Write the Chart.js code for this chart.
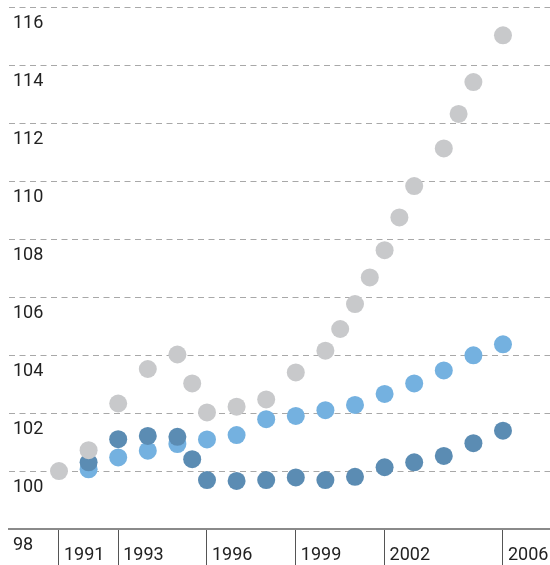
<!DOCTYPE html>
<html>
<head>
<meta charset="utf-8">
<script src="https://cdn.jsdelivr.net/npm/chart.js@4/dist/chart.umd.min.js"></script>
<style>
  html, body { margin: 0; padding: 0; background: #fff; }
  #wrap { width: 550px; height: 565px; }
</style>
</head>
<body>
<div id="wrap"><canvas id="chart" width="550" height="565"></canvas></div>
<script>
// values
const grayYears = [1991, 1992, 1993, 1994, 1995, 1995.5, 1996, 1997, 1998, 1999, 2000, 2000.5, 2001, 2001.5, 2002, 2002.5, 2003, 2004, 2004.5, 2005, 2006];
const grayValues = [100.0, 100.72, 102.33, 103.52, 104.02, 103.02, 102.02, 102.22, 102.47, 103.4, 104.15, 104.9, 105.76, 106.68, 107.62, 108.75, 109.83, 111.13, 112.32, 113.42, 115.03];

const darkYears = [1992, 1993, 1994, 1995, 1995.5, 1996, 1997, 1998, 1999, 2000, 2001, 2002, 2003, 2004, 2005, 2006];
const darkValues = [100.3, 101.1, 101.21, 101.18, 100.41, 99.69, 99.66, 99.69, 99.78, 99.69, 99.8, 100.13, 100.3, 100.52, 100.96, 101.39];

const lightYears = [1992, 1993, 1994, 1995, 1996, 1997, 1998, 1999, 2000, 2001, 2002, 2003, 2004, 2005, 2006];
const lightValues = [100.06, 100.47, 100.7, 100.93, 101.09, 101.24, 101.79, 101.9, 102.1, 102.28, 102.66, 103.02, 103.47, 103.99, 104.37];

const tickYears = [1991, 1993, 1996, 1999, 2002, 2006];

const fontFam = "'Liberation Sans Narrow', 'Roboto', sans-serif";

const toPoints = (xs, ys) => xs.map((x, i) => ({ x: x, y: ys[i] }));

const noPadding = (scale) => {
    scale.paddingLeft = 0;
    scale.paddingRight = 0;
    scale.paddingTop = 0;
    scale.paddingBottom = 0;
};

new Chart(document.getElementById('chart').getContext('2d'), {
    type: 'scatter',
    data: {
        datasets: [
            { data: toPoints(grayYears, grayValues), backgroundColor: '#c8c9cb' },
            { data: toPoints(darkYears, darkValues), backgroundColor: '#5b8cb3' },
            { data: toPoints(lightYears, lightValues), backgroundColor: '#74b1e0' }
        ]
    },
    options: {
        responsive: false,
        animation: false,
        events: [],
        layout: { autoPadding: false, padding: { left: 9, right: 0, top: 0, bottom: 0 } },
        elements: { point: { radius: 9, borderWidth: 0, hoverRadius: 9 } },
        plugins: { legend: { display: false }, tooltip: { enabled: false } },
        scales: {
            x: {
                type: 'linear',
                position: 'bottom',
                min: 1989.311,
                max: 2007.588,
                afterBuildTicks: (scale) => { scale.ticks = tickYears.map(v => ({ value: v })); },
                afterFit: (scale) => { scale.height = 36; noPadding(scale); },
                grid: { drawOnChartArea: false, drawTicks: true, tickLength: 36, tickColor: '#555', lineWidth: 1 },
                border: { display: true, color: '#8a8a8a', width: 2 },
                ticks: {
                    align: 'start',
                    labelOffset: 5,
                    padding: -20,
                    autoSkip: false,
                    maxRotation: 0,
                    color: '#222',
                    font: { family: fontFam, size: 18 },
                    callback: (v) => String(v)
                }
            },
            y: {
                type: 'linear',
                position: 'left',
                min: 98,
                max: 116.25,
                afterFit: (scale) => { scale.width = 0; noPadding(scale); },
                grid: {
                    drawTicks: false,
                    color: (ctx) => (ctx.tick && ctx.tick.value === 98) ? 'rgba(0,0,0,0)' : '#a8a8a8',
                    lineWidth: 1
                },
                border: { display: false, dash: [6, 4.5] },
                ticks: {
                    stepSize: 2,
                    includeBounds: false,
                    mirror: true,
                    crossAlign: 'near',
                    padding: 4,
                    labelOffset: 16,
                    color: '#222',
                    font: { family: fontFam, size: 18 }
                }
            }
        }
    }
});
</script>
</body>
</html>
